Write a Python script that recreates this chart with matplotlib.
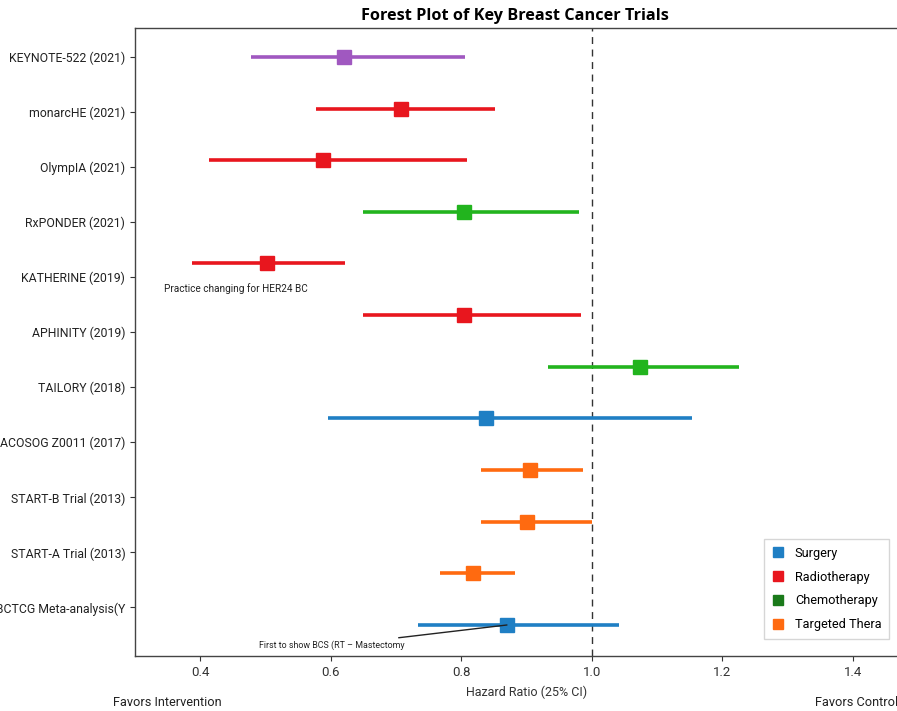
import numpy as np
import matplotlib
matplotlib.use("Agg")
import matplotlib.pyplot as plt
from matplotlib.lines import Line2D

plt.rcParams['font.family'] = ['Roboto', 'DejaVu Sans']

# trial labels shown on the y axis (the last one is cut off at the left edge)
trial_labels = ["KEYNOTE-522 (2021)", "monarcHE (2021)", "OlympIA (2021)", "RxPONDER (2021)",
                "KATHERINE (2019)", "APHINITY (2019)", "TAILORY (2018)", "ACOSOG Z0011 (2017)",
                "START-B Trial (2013)", "START-A Trial (2013)", "EBCTCG Meta-analysis(Y"]

# one row per drawn estimate
hr    = [0.620, 0.707, 0.588, 0.804, 0.502, 0.804, 1.074, 0.838, 0.906, 0.900, 0.818, 0.870]
ci_lo = [0.477, 0.578, 0.413, 0.649, 0.387, 0.649, 0.933, 0.596, 0.830, 0.830, 0.767, 0.733]
ci_hi = [0.805, 0.852, 0.808, 0.980, 0.622, 0.983, 1.225, 1.153, 0.987, 1.000, 0.883, 1.042]
kind  = ["Immuno", "Radiotherapy", "Radiotherapy", "Chemotherapy", "Radiotherapy", "Radiotherapy",
         "Chemotherapy", "Surgery", "Targeted", "Targeted", "Targeted", "Surgery"]

line_colors = {"Surgery": "#1f7fc4", "Radiotherapy": "#e8161e", "Chemotherapy": "#22b41e",
               "Targeted": "#ff6a10", "Immuno": "#a058c0"}

legend_names = ["Surgery", "Radiotherapy", "Chemotherapy", "Targeted Thera"]
legend_colors = ["#1f7fc4", "#e8161e", "#1a7a1a", "#ff6a10"]

fig = plt.figure(figsize=(8.97, 7.11), dpi=100)
ax = fig.add_axes([0.1505, 0.0774, 0.873, 0.8832])

rows = np.arange(len(hr))
for i in rows:
    c = line_colors[kind[i]]
    ax.plot([ci_lo[i], ci_hi[i]], [i, i], color=c, lw=2.6, solid_capstyle='butt', zorder=2)
    ax.plot(hr[i], i, marker='s', ms=9.5, color=c, zorder=3)

ax.axvline(1.0, color='#333333', ls='--', lw=1.0, dashes=(5, 4), zorder=1)

ax.set_xlim(0.3, 1.5)
ax.set_ylim(11.6, -0.56)
ax.set_xticks([0.4, 0.6, 0.8, 1.0, 1.2, 1.4])
ax.set_xticklabels(["0.4", "0.6", "0.8", "1.0", "1.2", "1.4"], fontsize=9.5, color='#333333')
ax.set_yticks(np.linspace(0, 10.66, len(trial_labels)))
ax.set_yticklabels(trial_labels, fontsize=8.8, color='#222222')
ax.tick_params(axis='both', length=3.5, width=0.8, color='#333333')
for s in ax.spines.values():
    s.set_color('#444444')
    s.set_linewidth(1.0)

ax.set_xlabel("Hazard Ratio (25% CI)", fontsize=9, color='#333333', labelpad=5)
ax.set_title("Forest Plot of Key Breast Cancer Trials", fontsize=11.7, fontweight='bold',
             family=['Open Sans', 'DejaVu Sans'], pad=6, x=0.485)

ax.text(0.345, 4.48, "Practice changing for HER24 BC", fontsize=7.2, color='#222222',
        ha='left', va='center')
ax.annotate("First to show BCS (RT \u2013 Mastectomy", xy=(hr[11], 11), xytext=(0.713, 11.4),
            fontsize=6.4, color='#222222', ha='right', va='center',
            arrowprops=dict(arrowstyle='-', color='#222222', lw=1.0, shrinkA=2, shrinkB=0))

fig.text(0.186, 0.003, "Favors Intervention", fontsize=9.2, ha='center', va='bottom', color='#222222')
fig.text(0.909, 0.003, "Favors Control", fontsize=9.2, ha='left', va='bottom', color='#222222')

handles = [Line2D([], [], ls='none', marker='s', ms=7.5, color=c) for c in legend_colors]
ax.legend(handles, legend_names, loc='lower right', bbox_to_anchor=(0.963, 0.027), fontsize=9.2,
          frameon=True, edgecolor='#cccccc', fancybox=False, handlelength=1.0, handletextpad=0.8,
          borderpad=0.6, labelspacing=0.85, borderaxespad=0)

fig.savefig("out.png", dpi=100)
